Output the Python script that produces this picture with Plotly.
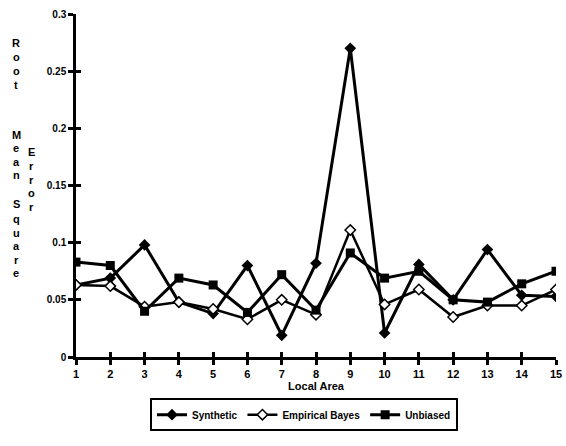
import plotly.graph_objects as go

areas = list(range(1, 16))
synthetic = [0.063, 0.069, 0.098, 0.048, 0.038, 0.080, 0.019, 0.082, 0.270, 0.021, 0.081, 0.050, 0.094, 0.054, 0.053]
empirical_bayes = [0.063, 0.062, 0.044, 0.048, 0.042, 0.033, 0.050, 0.037, 0.111, 0.046, 0.059, 0.035, 0.045, 0.045, 0.059]
unbiased = [0.083, 0.080, 0.040, 0.069, 0.063, 0.039, 0.072, 0.041, 0.091, 0.069, 0.075, 0.050, 0.048, 0.064, 0.075]
y_ticks = [0, 0.05, 0.1, 0.15, 0.2, 0.25, 0.3]
y_tick_labels = ["0", "0.05", "0.1", "0.15", "0.2", "0.25", "0.3"]

FONT = "Liberation Sans Narrow, Liberation Sans, Arial, sans-serif"

fig = go.Figure()
fig.add_trace(go.Scatter(x=areas, y=synthetic, name="Synthetic", mode="lines+markers",
                         line=dict(color="black", width=3),
                         marker=dict(symbol="diamond", size=9, color="black")))
fig.add_trace(go.Scatter(x=areas, y=empirical_bayes, name="Empirical Bayes", mode="lines+markers",
                         line=dict(color="black", width=2.5),
                         marker=dict(symbol="diamond", size=8, color="white",
                                     line=dict(color="black", width=1.5))))
fig.add_trace(go.Scatter(x=areas, y=unbiased, name="Unbiased", mode="lines+markers",
                         line=dict(color="black", width=3),
                         marker=dict(symbol="square", size=9, color="black")))

axis_common = dict(showgrid=False, zeroline=False, showline=True, linecolor="black",
                   linewidth=2.5, tickcolor="black", tickwidth=2.5, ticklen=5, automargin=False)

fig.update_layout(
    width=566, height=446,
    margin=dict(l=76, r=10, t=14, b=89, autoexpand=False),
    paper_bgcolor="white", plot_bgcolor="white",
    font=dict(family=FONT, size=10, color="black", weight="bold"),
    xaxis=dict(range=[1, 15], tickmode="array", tickvals=areas, ticks="outside",
               title=dict(text="Local Area", standoff=4, font=dict(size=11)),
               tickfont=dict(size=11), ticklabeloverflow="allow", **axis_common),
    yaxis=dict(range=[0, 0.3], tickmode="array", tickvals=y_ticks, ticktext=y_tick_labels,
               ticks="outside", tickfont=dict(size=10), **axis_common),
    xaxis2=dict(range=[1, 15], overlaying="x", tickmode="array", tickvals=areas,
                ticks="inside", showticklabels=False, **axis_common),
    yaxis2=dict(range=[0, 0.3], overlaying="y", tickmode="array", tickvals=y_ticks,
                ticks="inside", showticklabels=False, **axis_common),
    showlegend=True,
    legend=dict(orientation="h", x=0.475, xanchor="center", y=-0.12, yanchor="top",
                bordercolor="black", borderwidth=2, bgcolor="white",
                font=dict(size=10), itemwidth=30),
)

# invisible trace so the overlay axes are drawn
fig.add_trace(go.Scatter(x=areas, y=unbiased, xaxis="x2", yaxis="y2", mode="markers",
                         marker=dict(opacity=0), showlegend=False, hoverinfo="skip"))

# stacked vertical axis title
col1 = [("R", 43), ("o", 57), ("o", 71), ("t", 85), ("M", 135), ("e", 148), ("a", 162),
        ("n", 175), ("S", 204), ("q", 219), ("u", 233), ("a", 246), ("r", 260), ("e", 273)]
col2 = [("E", 152), ("r", 166), ("r", 180), ("o", 193), ("r", 207)]
for letters, xp in ((col1, 16), (col2, 31)):
    for ch, yp in letters:
        fig.add_annotation(text=ch, xref="paper", yref="paper",
                           x=(xp - 76) / 480, y=(357 - yp) / 343,
                           showarrow=False, font=dict(size=11), xanchor="center", yanchor="middle")

fig.write_html("out.html", config={"displayModeBar": False},
               post_script="document.body.style.margin='0';document.body.style.overflow='hidden';")
